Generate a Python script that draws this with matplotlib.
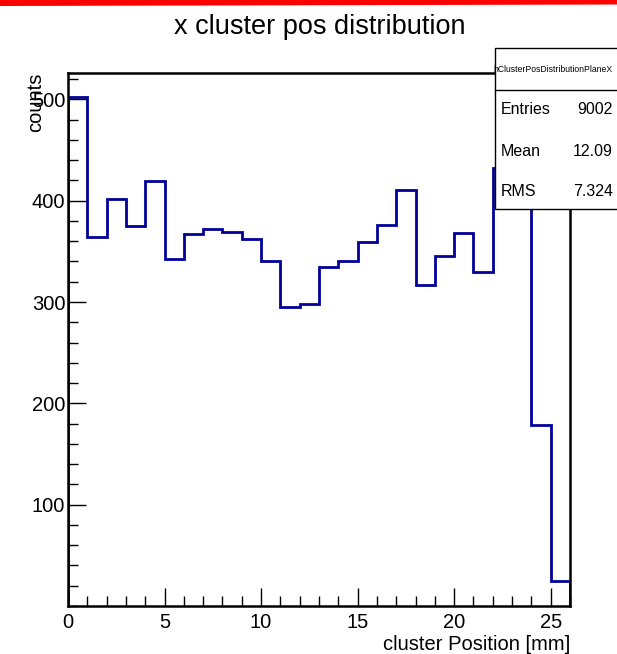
import matplotlib
matplotlib.use("Agg")
import matplotlib.pyplot as plt
from matplotlib.patches import Rectangle, Polygon
from matplotlib.ticker import MultipleLocator

plt.rcParams['font.family'] = ['Liberation Sans', 'DejaVu Sans']

# histogram data, bins of 1 mm from 0 to 26
bin_edges = [0, 1, 2, 3, 4, 5, 6, 7, 8, 9, 10, 11, 12, 13,
             14, 15, 16, 17, 18, 19, 20, 21, 22, 23, 24, 25, 26]
counts = [502, 364, 402, 375, 419, 342, 367, 372, 369, 362, 340, 295, 298,
          335, 340, 359, 376, 411, 317, 345, 368, 330, 432, 420, 179, 25]

hist_name = "hClusterPosDistributionPlaneX"
stat_names = ["Entries", "Mean", "RMS"]
stat_values = ["9002", "12.09", "7.324"]

W, H = 617, 654
fig = plt.figure(figsize=(W / 100.0, H / 100.0), dpi=100)

# axes frame in pixel terms
left, right, top, bottom = 68, 570, 73, 606
ax = fig.add_axes([left / W, 1 - bottom / H, (right - left) / W, (bottom - top) / H])

ax.stairs(counts, bin_edges, color='#000099', linewidth=2)
ax.set_xlim(0, 26)
ax.set_ylim(0, 526)

for s in ax.spines.values():
    s.set_linewidth(1.8)
    s.set_color('black')

ax.xaxis.set_major_locator(MultipleLocator(5))
ax.xaxis.set_minor_locator(MultipleLocator(1))
ax.yaxis.set_major_locator(MultipleLocator(100))
ax.yaxis.set_minor_locator(MultipleLocator(20))
ax.tick_params(which='both', direction='in', top=False, right=False, labelsize=14.5, width=1)
ax.tick_params(which='major', length=13)
ax.tick_params(which='minor', length=7)
ax.tick_params(axis='x', pad=5)
ax.tick_params(axis='y', pad=2)
# ROOT does not label 0 on the y axis
ax.set_yticks([100, 200, 300, 400, 500])

ax.set_xlabel("cluster Position [mm]", fontsize=14.5, loc='right', labelpad=2)
ax.set_ylabel("counts", fontsize=14.5, loc='top')
ax.yaxis.set_label_coords(-0.045, 1.0)

fig.text(320 / W, 1 - 27 / H, "x cluster pos distribution", fontsize=19.5,
         ha='center', va='center')

# red band on top of the canvas (slightly thicker on the left)
fig.add_artist(Polygon([(0, 1), (1, 1), (1, 1 - 4.5 / H), (0, 1 - 6 / H)],
                       closed=True, transform=fig.transFigure,
                       facecolor='#ff0000', edgecolor='none'))

# stats box (runs past the right edge, like the original canvas)
bx0, by0, by1 = 495, 48, 209
fig.add_artist(Rectangle((bx0 / W, 1 - by1 / H), 1.0, (by1 - by0) / H,
                         transform=fig.transFigure, facecolor='white',
                         edgecolor='black', linewidth=1, zorder=5))
fig.add_artist(plt.Line2D([bx0 / W, 1.0], [1 - 90 / H, 1 - 90 / H],
                          transform=fig.transFigure, color='black', linewidth=1, zorder=6))
fig.text(493 / W, 1 - 69 / H, hist_name, fontsize=6.2, ha='left', va='center', zorder=7)
rows_y = [110, 151, 191]
for name, val, yy in zip(stat_names, stat_values, rows_y):
    fig.text(501 / W, 1 - yy / H, name, fontsize=11.5, ha='left', va='center', zorder=7)
    fig.text(613 / W, 1 - yy / H, val, fontsize=11.5, ha='right', va='center', zorder=7)

fig.savefig("out.png", dpi=100)
